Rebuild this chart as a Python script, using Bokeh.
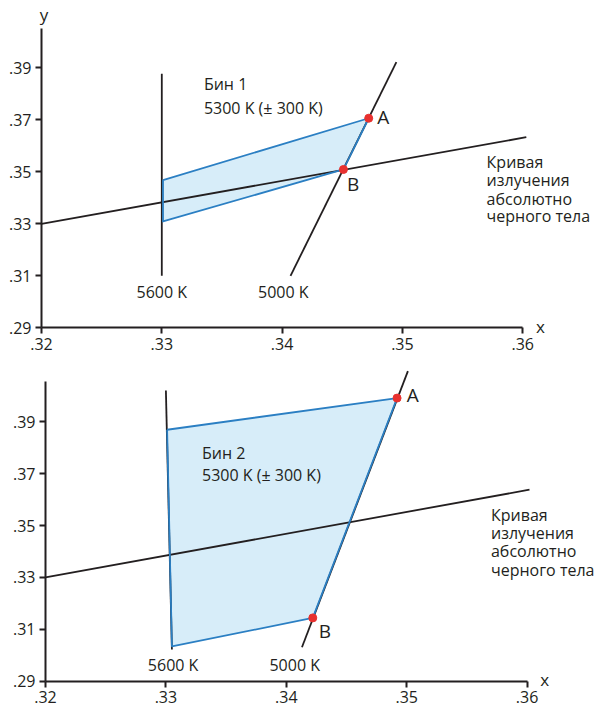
from bokeh.plotting import figure
from bokeh.models import Label, FixedTicker, Range1d, LinearAxis
from bokeh.layouts import column
from bokeh.embed import file_html
from bokeh.resources import INLINE

# ---------------- data ----------------
x_ticks = [0.32, 0.33, 0.34, 0.35, 0.36]
x_tick_labels = [".32", ".33", ".34", ".35", ".36"]
y_ticks = [0.29, 0.31, 0.33, 0.35, 0.37, 0.39]
y_tick_labels = [".29", ".31", ".33", ".35", ".37", ".39"]

# Panel 1 (Бин 1)
bb1_x = [0.3200, 0.3603]
bb1_y = [0.3300, 0.3633]
iso5600_1_x = [0.3300, 0.3300]
iso5600_1_y = [0.3100, 0.3877]
iso5000_1_x = [0.3407, 0.3495]
iso5000_1_y = [0.3100, 0.3922]
bin1_x = [0.3301, 0.3472, 0.3451, 0.3301]   # TL, A, B, BL
bin1_y = [0.3468, 0.3706, 0.3509, 0.3309]

# Panel 2 (Бин 2)
bb2_x = [0.3200, 0.3602]
bb2_y = [0.3300, 0.3638]
iso5600_2_x = [0.3300, 0.3305]
iso5600_2_y = [0.4020, 0.3022]
iso5000_2_x = [0.3413, 0.3501]
iso5000_2_y = [0.3031, 0.4095]
bin2_x = [0.3301, 0.3492, 0.3422, 0.3305]   # TL, A, B, BL
bin2_y = [0.3869, 0.3991, 0.3144, 0.3034]

bb_text = ["Кривая", "излучения", "абсолютно", "черного тела"]

FONT = "Open Sans"
INK = "#231f20"
BLUE = "#2b7fc3"
FILL = "#d7edf9"
RED = "#e8312f"
W = 597


def make_panel(height, ox, oy, xscale, yscale, y_top, bb_x, bb_y,
               i56_x, i56_y, i50_x, i50_y, bx, by, texts):
    # ox, oy: pixel position (within this figure) of the data origin (.32, .29)
    x0 = 0.32 - ox / xscale
    y0 = 0.29 - (height - oy) / yscale
    p = figure(width=W, height=height,
               x_range=Range1d(x0, x0 + W / xscale),
               y_range=Range1d(y0, y0 + height / yscale),
               x_axis_location=None, y_axis_location=None,
               output_backend="svg", toolbar_location=None,
               min_border=0)
    p.outline_line_color = None
    p.grid.visible = False
    p.background_fill_color = "white"
    p.border_fill_color = "white"

    xa = LinearAxis(fixed_location=0.29)
    ya = LinearAxis(fixed_location=0.32)
    for ax, ticks, labels, bnds in ((xa, x_ticks, x_tick_labels, (0.32, 0.36)),
                                    (ya, y_ticks, y_tick_labels, (0.29, y_top))):
        ax.ticker = FixedTicker(ticks=ticks)
        ax.major_label_overrides = dict(zip(ticks, labels))
        ax.bounds = bnds
        ax.axis_line_width = 2
        ax.axis_line_color = INK
        ax.major_tick_line_color = INK
        ax.major_tick_line_width = 2
        ax.major_tick_out = 6
        ax.major_tick_in = 0
        ax.minor_tick_line_color = None
        ax.major_label_text_font = FONT
        ax.major_label_text_font_size = "16px"
        ax.major_label_text_color = INK
        ax.major_label_standoff = 4
    p.add_layout(xa, "below")
    p.add_layout(ya, "left")

    # bin fill
    p.patch(bx, by, fill_color=FILL, line_alpha=0)
    # black lines
    for lx, ly in ((bb_x, bb_y), (i56_x, i56_y), (i50_x, i50_y)):
        p.line(lx, ly, line_color=INK, line_width=1.8)
    # bin edges
    p.line(bx + [bx[0]], by + [by[0]], line_color=BLUE, line_width=1.8,
           line_join="round")
    # A and B points
    p.scatter([bx[1], bx[2]], [by[1], by[2]], size=8, fill_color=RED,
              line_color=RED)

    for t, x, y, align, size in texts:
        p.add_layout(Label(x=x, y=y, text=t, text_font=FONT,
                           text_font_size=size, text_color=INK,
                           text_align=align, text_baseline="middle"))
    return p


texts1 = [
    ("Бин 1", 0.3335, 0.3836, "left", "16px"),
    ("5300 K (± 300 K)", 0.3335, 0.3747, "left", "16px"),
    ("A", 0.3479, 0.3709, "left", "19px"),
    ("B", 0.3454, 0.3455, "left", "19px"),
    (bb_text[0], 0.3570, 0.3537, "left", "16px"),
    (bb_text[1], 0.3570, 0.3467, "left", "16px"),
    (bb_text[2], 0.3570, 0.3396, "left", "16px"),
    (bb_text[3], 0.3570, 0.3329, "left", "16px"),
    ("5600 K", 0.3300, 0.3036, "center", "16px"),
    ("5000 K", 0.3401, 0.3036, "center", "16px"),
    ("y", 0.3202, 0.4105, "center", "17px"),
    ("x", 0.3611, 0.2905, "left", "17px"),
]

texts2 = [
    ("Бин 2", 0.3330, 0.3780, "left", "16px"),
    ("5300 K (± 300 K)", 0.3330, 0.3695, "left", "16px"),
    ("A", 0.3500, 0.4001, "left", "19px"),
    ("B", 0.3427, 0.3095, "left", "19px"),
    (bb_text[0], 0.3570, 0.3541, "left", "16px"),
    (bb_text[1], 0.3570, 0.3470, "left", "16px"),
    (bb_text[2], 0.3570, 0.3400, "left", "16px"),
    (bb_text[3], 0.3570, 0.3330, "left", "16px"),
    ("5600 K", 0.3306, 0.2964, "center", "16px"),
    ("5000 K", 0.3407, 0.2964, "center", "16px"),
    ("x", 0.3611, 0.2905, "left", "17px"),
]

p1 = make_panel(356, 41, 327.3, 12030, 2600, 0.4050, bb1_x, bb1_y,
                iso5600_1_x, iso5600_1_y, iso5000_1_x, iso5000_1_y,
                bin1_x, bin1_y, texts1)
p2 = make_panel(356, 45, 324.7, 12040, 2595, 0.4056, bb2_x, bb2_y,
                iso5600_2_x, iso5600_2_y, iso5000_2_x, iso5000_2_y,
                bin2_x, bin2_y, texts2)

layout = column(p1, p2)
open("out.html", "w").write(file_html(layout, INLINE))
